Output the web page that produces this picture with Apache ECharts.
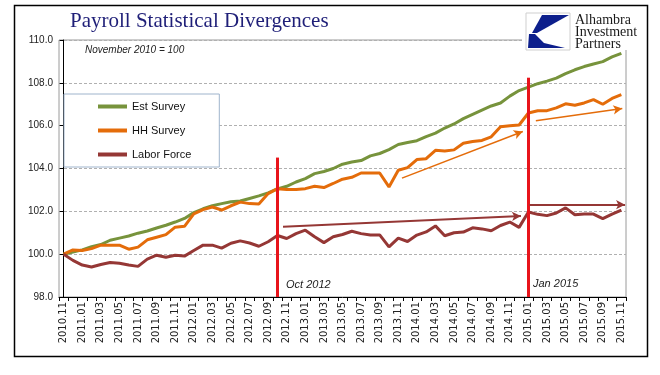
<!DOCTYPE html>
<html><head><meta charset="utf-8">
<script src="https://cdn.jsdelivr.net/npm/echarts@6/dist/echarts.min.js"></script>
<style>html,body{margin:0;padding:0;background:#fff}#c{width:660px;height:375px}</style>
</head><body><div id="c"></div>
<script>
const categories = ['2010.11','2010.12','2011.01','2011.02','2011.03','2011.04','2011.05','2011.06','2011.07','2011.08','2011.09','2011.10','2011.11','2011.12',
'2012.01','2012.02','2012.03','2012.04','2012.05','2012.06','2012.07','2012.08','2012.09','2012.10','2012.11','2012.12',
'2013.01','2013.02','2013.03','2013.04','2013.05','2013.06','2013.07','2013.08','2013.09','2013.10','2013.11','2013.12',
'2014.01','2014.02','2014.03','2014.04','2014.05','2014.06','2014.07','2014.08','2014.09','2014.10','2014.11','2014.12',
'2015.01','2015.02','2015.03','2015.04','2015.05','2015.06','2015.07','2015.08','2015.09','2015.10','2015.11'];

const estSurvey = [100.0,100.1,100.2,100.35,100.45,100.65,100.75,100.85,100.98,101.08,101.22,101.35,101.5,101.67,
101.94,102.12,102.26,102.36,102.45,102.48,102.6,102.72,102.86,103.05,103.17,103.37,
103.53,103.76,103.86,104.0,104.2,104.3,104.37,104.59,104.7,104.88,105.12,105.21,
105.3,105.49,105.65,105.89,106.08,106.33,106.53,106.73,106.92,107.06,107.38,107.64,
107.8,107.96,108.08,108.22,108.43,108.61,108.76,108.88,108.99,109.21,109.38];

const hhSurvey = [100.0,100.2,100.17,100.26,100.42,100.42,100.42,100.23,100.33,100.67,100.79,100.91,101.26,101.3,
101.88,102.08,102.2,102.06,102.26,102.43,102.36,102.34,102.83,103.06,103.02,103.02,
103.06,103.17,103.11,103.3,103.5,103.59,103.79,103.79,103.79,103.14,103.92,104.04,
104.42,104.46,104.85,104.82,104.87,105.18,105.26,105.31,105.48,105.95,106.0,106.03,
106.59,106.7,106.7,106.83,107.02,106.95,107.06,107.22,107.0,107.27,107.45];

const laborForce = [100.0,99.71,99.49,99.4,99.52,99.61,99.58,99.49,99.43,99.77,99.95,99.86,99.95,99.91,
100.17,100.42,100.42,100.28,100.51,100.62,100.52,100.37,100.58,100.87,100.73,100.96,
101.12,100.81,100.54,100.81,100.92,101.07,100.96,100.89,100.9,100.34,100.75,100.59,
100.89,101.04,101.32,100.86,101.0,101.03,101.23,101.18,101.09,101.34,101.5,101.25,
101.97,101.86,101.8,101.92,102.16,101.84,101.87,101.87,101.66,101.87,102.06];

const yTicks = [98, 100, 102, 104, 106, 108, 110];

// annotation lines: [xIndexStart, valueStart, xIndexEnd, valueEnd]
const redLines = [[23, 104.51, 23, 98], [50, 108.24, 50, 98]];
const maroonArrows = [[23.6, 101.28, 49.2, 101.78], [50.1, 102.31, 60.4, 102.31]];
const orangeArrows = [[36.4, 103.55, 49.4, 105.73], [50.8, 106.23, 60.1, 106.8]];
const annotationTexts = ['Oct 2012', 'Jan 2015'];

const C_GREEN = '#77933C', C_ORANGE = '#E46C0A', C_MAROON = '#953735', C_RED = '#E8141B';

function segs(arr) { return arr.map(a => [{coord: [a[0], a[1]]}, {coord: [a[2], a[3]]}]); }

const chart = echarts.init(document.getElementById('c'), null, {renderer: 'canvas'});
chart.setOption({
  animation: false,
  backgroundColor: '#fff',
  grid: {left: 59, right: 34, top: 40, bottom: 78, show: true, borderColor: '#9a9a9a', borderWidth: 1},
  legend: {
    orient: 'vertical', left: 64, top: 94,
    padding: [7, 28, 7, 34], itemGap: 13,
    backgroundColor: '#fff', borderColor: '#9fb4cc', borderWidth: 1, borderRadius: 0,
    itemWidth: 29, itemHeight: 4, icon: 'rect',
    textStyle: {fontFamily: 'Liberation Sans', fontSize: 11, color: '#111'},
    data: ['Est Survey', 'HH Survey', 'Labor Force']
  },
  xAxis: [{
    type: 'category', data: categories, boundaryGap: true,
    axisLine: {lineStyle: {color: '#000', width: 1}},
    axisTick: {show: true, interval: 0, length: 4, lineStyle: {color: '#000'}},
    axisLabel: {interval: 1, rotate: 90, fontFamily: 'DejaVu Sans', fontSize: 10, color: '#222', margin: 5},
    splitLine: {show: false}
  }, {
    type: 'value', min: -0.5, max: 60.5, show: false
  }],
  yAxis: {
    type: 'value', min: yTicks[0], max: yTicks[yTicks.length - 1], interval: 2,
    axisLine: {show: true, lineStyle: {color: '#000', width: 1}},
    axisTick: {show: true, length: 4, lineStyle: {color: '#000'}},
    axisLabel: {formatter: v => v.toFixed(1), fontFamily: 'Liberation Sans', fontSize: 10, color: '#222', margin: 6},
    splitLine: {show: true, lineStyle: {color: '#b0b0b0', type: [3, 2], width: 1}}
  },
  series: [
    {name: 'Est Survey', type: 'line', data: estSurvey, showSymbol: false, symbol: 'none', lineStyle: {width: 3, color: C_GREEN}, itemStyle: {color: C_GREEN}, z: 3},
    {name: 'HH Survey', type: 'line', data: hhSurvey, showSymbol: false, symbol: 'none', lineStyle: {width: 3, color: C_ORANGE}, itemStyle: {color: C_ORANGE}, z: 3},
    {name: 'Labor Force', type: 'line', data: laborForce, showSymbol: false, symbol: 'none', lineStyle: {width: 3, color: C_MAROON}, itemStyle: {color: C_MAROON}, z: 3},
    {name: 'annot', type: 'line', xAxisIndex: 1, data: [], silent: true, z: 5,
      markLine: {silent: true, symbol: ['none', 'none'], label: {show: false},
        lineStyle: {color: C_RED, width: 3, type: 'solid'}, data: segs(redLines)}},
    {name: 'annot2', type: 'line', xAxisIndex: 1, data: [], silent: true, z: 5,
      markLine: {silent: true, symbol: ['none', 'arrow'], symbolSize: [7, 9], label: {show: false},
        lineStyle: {color: C_MAROON, width: 2, type: 'solid'}, data: segs(maroonArrows)}},
    {name: 'annot3', type: 'line', xAxisIndex: 1, data: [], silent: true, z: 5,
      markLine: {silent: true, symbol: ['none', 'arrow'], symbolSize: [7, 9], label: {show: false},
        lineStyle: {color: C_ORANGE, width: 1.5, type: 'solid'}, data: segs(orangeArrows)}}
  ],
  graphic: [
    {type: 'rect', shape: {x: 14.5, y: 5.5, width: 633, height: 351}, style: {fill: 'none', stroke: '#000', lineWidth: 1.5}, z: 10},
    {type: 'text', left: 70, top: 11, style: {text: 'Payroll Statistical Divergences', font: '21px "Liberation Serif"', fill: '#1f1f78'}, z: 10},
    {type: 'text', left: 85, top: 45, style: {text: 'November 2010 = 100', font: 'italic 10px "Liberation Sans"', fill: '#222'}, z: 10},
    {type: 'text', left: 286, top: 279, style: {text: annotationTexts[0], font: 'italic 11px "Liberation Sans"', fill: '#222'}, z: 10},
    {type: 'text', left: 533, top: 278, style: {text: annotationTexts[1], font: 'italic 11px "Liberation Sans"', fill: '#222'}, z: 10},
    {type: 'rect', shape: {x: 522, y: 9, width: 123, height: 41}, style: {fill: '#fff'}, z: 9},
    {type: 'rect', shape: {x: 526, y: 13, width: 44, height: 37}, style: {fill: '#fff', stroke: '#cfcfcf', lineWidth: 1}, z: 10},
    {type: 'polygon', shape: {points: [[542, 15], [569, 15], [537, 33], [532, 33]]}, style: {fill: '#0d1f8c'}, z: 11},
    {type: 'polygon', shape: {points: [[529, 34], [535, 34], [544, 43], [565, 48], [528, 48]]}, style: {fill: '#0d1f8c'}, z: 11},
    {type: 'text', left: 575, top: 13, style: {text: 'Alhambra', font: '14px "Liberation Serif"', fill: '#1a1a1a'}, z: 11},
    {type: 'text', left: 575, top: 25, style: {text: 'Investment', font: '14px "Liberation Serif"', fill: '#1a1a1a'}, z: 11},
    {type: 'text', left: 575, top: 37, style: {text: 'Partners', font: '14px "Liberation Serif"', fill: '#1a1a1a'}, z: 11}
  ]
});
</script>
</body></html>
